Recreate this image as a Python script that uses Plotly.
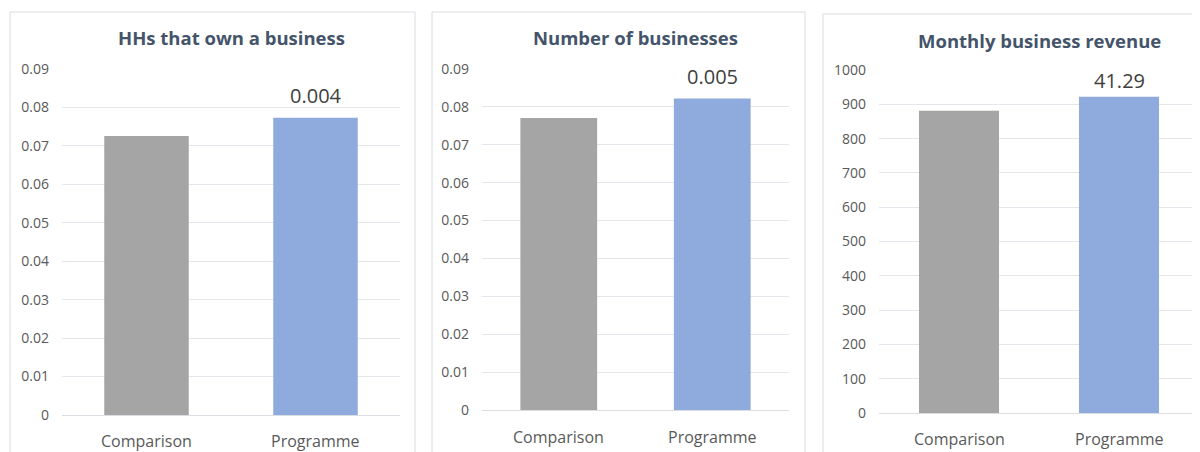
import plotly.graph_objects as go

W, H = 1200, 452
OX, OY = 8, 8  # page body margin compensation

categories = ["Comparison", "Programme"]
titles = ["HHs that own a business", "Number of businesses", "Monthly business revenue"]
comparison_values = [0.0726, 0.0771, 881]
programme_values = [0.0773, 0.0822, 922]
diff_labels = ["0.004", "0.005", "41.29"]
y_max = [0.09, 0.09, 1000]
y_dtick = [0.01, 0.01, 100]

# layout geometry (pixels in the final picture)
plot_x = [(62, 400), (482, 789), (879, 1199)]
plot_y = [(69, 415), (69, 410), (70, 413)]
panel_box = [(10, 415, 12), (432, 805, 12), (823, 1215, 14)]
title_y = [38, 38, 40]
label_y = [96, 76, 80]
cat_y = [441, 437, 439]


def px(x):
    return (x - OX) / W


def py(y):
    return 1 - (y - OY) / H


GRAY = "#A5A5A5"
BLUE = "#8FAADC"
FONT = "Open Sans"

fig = go.Figure()
for i in range(3):
    xa = "x" if i == 0 else f"x{i+1}"
    ya = "y" if i == 0 else f"y{i+1}"
    fig.add_trace(go.Bar(
        x=categories,
        y=[comparison_values[i], programme_values[i]],
        width=0.5,
        marker=dict(color=[GRAY, BLUE], line=dict(width=0)),
        xaxis=xa, yaxis=ya, showlegend=False, hoverinfo="skip",
    ))
    x0, x1 = plot_x[i]
    y0, y1 = plot_y[i]
    xkey = "xaxis" if i == 0 else f"xaxis{i+1}"
    ykey = "yaxis" if i == 0 else f"yaxis{i+1}"
    fig.update_layout(**{
        xkey: dict(domain=[px(x0), px(x1)], anchor=ya, showgrid=False,
                   showline=False, zeroline=False, ticks="",
                   showticklabels=False, fixedrange=True, automargin=False),
        ykey: dict(domain=[py(y1), py(y0)], anchor=xa,
                   range=[0, y_max[i]], dtick=y_dtick[i],
                   showgrid=True, gridcolor="#E3E6EA", gridwidth=1,
                   zeroline=True, zerolinecolor="#DADDE2", zerolinewidth=1,
                   showline=False, ticks="", ticklen=0, automargin=False,
                   ticklabelstandoff=12,
                   tickfont=dict(family=FONT, size=14, color="#595959"),
                   fixedrange=True),
    })
    # panel border
    bx0, bx1, by0 = panel_box[i]
    fig.add_shape(type="rect", xref="paper", yref="paper",
                  x0=px(bx0), x1=px(bx1), y0=-0.05, y1=py(by0),
                  line=dict(color="#D9DCE1", width=1), fillcolor="rgba(0,0,0,0)",
                  layer="below")
    # title
    fig.add_annotation(xref="paper", yref="paper", x=px((x0 + x1) / 2),
                       y=py(title_y[i]), text=f"<b>{titles[i]}</b>",
                       showarrow=False, xanchor="center", yanchor="middle",
                       font=dict(family=FONT, size=18.5, color="#44546A"))
    # data label on programme bar
    fig.add_annotation(x=categories[1], xref=xa, yref="paper", y=py(label_y[i]),
                       text=diff_labels[i], showarrow=False, yanchor="middle",
                       font=dict(family=FONT, size=20, color="#404040"))
    # category labels
    for c in categories:
        fig.add_annotation(x=c, xref=xa, yref="paper", y=py(cat_y[i]),
                           text=c, showarrow=False, yanchor="middle",
                           font=dict(family=FONT, size=16, color="#595959"))

fig.update_layout(width=W, height=H,
                  margin=dict(l=0, r=0, t=0, b=0, pad=0, autoexpand=False),
                  paper_bgcolor="white", plot_bgcolor="white",
                  bargap=0.5)
fig.write_html("out.html")
